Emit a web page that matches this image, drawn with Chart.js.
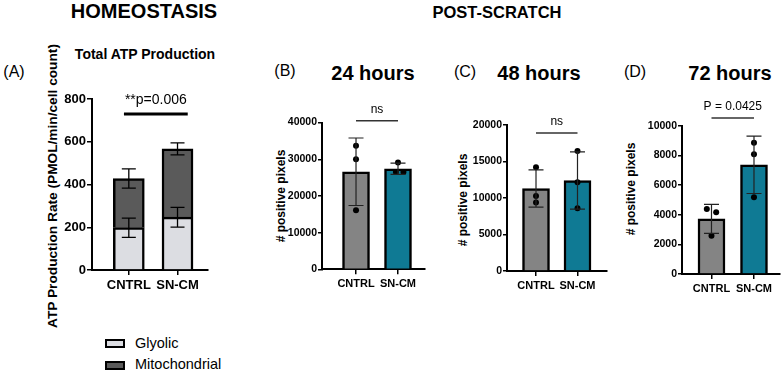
<!DOCTYPE html>
<html>
<head>
<meta charset="utf-8">
<script src="https://cdn.jsdelivr.net/npm/chart.js@4.4.0/dist/chart.umd.min.js"></script>
<style>
  body { margin: 0; background: #fff; }
  #fig { position: relative; width: 784px; height: 375px; overflow: hidden;
         font-family: "Liberation Sans", Arial, sans-serif; color: #000; }
  #fig canvas { position: absolute; }
  .t { position: absolute; white-space: nowrap; line-height: 1; transform: translate(-50%, -50%); }
  .rot { transform: translate(-50%, -50%) rotate(-90deg); }
  .head { font-size: 20px; font-weight: bold; }
  .sub { font-size: 14px; font-weight: bold; }
  .panel { font-size: 16px; }
  .ylab { font-size: 12px; font-weight: bold; }
  .leg { position: absolute; left: 105px; font-size: 14.5px; line-height: 1; white-space: nowrap; }
  .leg span.box { display: inline-block; width: 16px; height: 5px; border: 2px solid #000;
                  vertical-align: middle; margin-right: 10px; }
</style>
</head>
<body>
<div id="fig">
  <div class="t head" style="left:144px; top:11px;">HOMEOSTASIS</div>
  <div class="t head" style="left:497px; top:12px; font-size:16.5px;">POST-SCRATCH</div>

  <div class="t sub" style="left:145px; top:54px;">Total ATP Production</div>
  <div class="t panel" style="left:14px; top:72px;">(A)</div>
  <div class="t ylab rot" style="left:53px; top:186px; font-size:13.7px;">ATP Production Rate (PMOL/min/cell count)</div>

  <div class="t panel" style="left:285px; top:71px;">(B)</div>
  <div class="t head" style="left:373px; top:73px;">24 hours</div>
  <div class="t ylab rot" style="left:281px; top:196px;"># positive pixels</div>

  <div class="t panel" style="left:465px; top:72px;">(C)</div>
  <div class="t head" style="left:539px; top:73px;">48 hours</div>
  <div class="t ylab rot" style="left:463px; top:200px;"># positive pixels</div>

  <div class="t panel" style="left:635px; top:72px;">(D)</div>
  <div class="t head" style="left:730px; top:73px;">72 hours</div>
  <div class="t ylab rot" style="left:631px; top:189px;"># positive pixels</div>

  <canvas id="chartA" width="190" height="230" style="left:40px; top:80px;"></canvas>
  <canvas id="chartB" width="165" height="210" style="left:270px; top:100px;"></canvas>
  <canvas id="chartC" width="160" height="210" style="left:455px; top:100px;"></canvas>
  <canvas id="chartD" width="154" height="210" style="left:630px; top:100px;"></canvas>

  <div id="legendA"></div>
</div>

<script>
// categorias
const categories = ['CNTRL', 'SN-CM'];

// (A) ATP production - stacked
const glycoMean = [198, 247];
const glycoSd = [45, 46];
const mitoMean = [230, 320];
const totalSd = [45, 28];
const ticksA = [0, 200, 400, 600, 800];

// (B) 24 hours
const mean24 = [26600, 27400];
const sd24 = [9200, 1530];
const pts24 = [[33700, 30000, 16100], [29150, 26500, 26500]];
const jit24 = [[0, 0, 0], [0, -0.05, 0.13]];
const ticks24 = [0, 10000, 20000, 30000, 40000];

// (C) 48 hours
const mean48 = [11300, 12400];
const sd48 = [2560, 3930];
const pts48 = [[14200, 10270, 9400], [16440, 12150, 8590]];
const jit48 = [[0, 0, 0], [0, 0, 0]];
const ticks48 = [0, 5000, 10000, 15000, 20000];

// (D) 72 hours
const mean72 = [3720, 7380];
const sd72 = [980, 1940];
const pts72 = [[4390, 4170, 2590], [8870, 8090, 5180]];
const jit72 = [[-0.11, 0.11, 0], [0, 0, 0]];
const ticks72 = [0, 2000, 4000, 6000, 8000, 10000];

const GLY = '#dcdde2';
const MITO = '#5a5a5a';
const GRAY = '#848484';
const TEAL = '#0f7a94';

Chart.defaults.font.family = "'Liberation Sans', Arial, sans-serif";
Chart.defaults.color = '#000';

// barras de erro
const errorBarPlugin = {
    id: 'errorBars',
    afterDatasetsDraw(chart, args, opts) {
        const ctx = chart.ctx;
        const xs = chart.scales.x, ys = chart.scales.y;
        ctx.save();
        ctx.strokeStyle = opts.color;
        ctx.lineWidth = opts.width;
        opts.items.forEach(it => {
            const x = xs.getPixelForValue(it.x);
            const y1 = ys.getPixelForValue(it.y - it.sd);
            const y2 = ys.getPixelForValue(it.y + it.sd);
            ctx.beginPath();
            ctx.moveTo(x, y1); ctx.lineTo(x, y2);
            ctx.moveTo(x - opts.cap / 2, y1); ctx.lineTo(x + opts.cap / 2, y1);
            ctx.moveTo(x - opts.cap / 2, y2); ctx.lineTo(x + opts.cap / 2, y2);
            ctx.stroke();
        });
        ctx.restore();
    }
};

// linha de significancia
const sigPlugin = {
    id: 'sigBar',
    afterDraw(chart, args, o) {
        const ctx = chart.ctx;
        const xs = chart.scales.x, ys = chart.scales.y;
        const x1 = xs.getPixelForValue(o.from), x2 = xs.getPixelForValue(o.to);
        const y = ys.getPixelForValue(o.y);
        ctx.save();
        ctx.strokeStyle = o.color;
        ctx.lineWidth = o.lineWidth;
        ctx.beginPath();
        ctx.moveTo(x1, y); ctx.lineTo(x2, y);
        ctx.stroke();
        ctx.fillStyle = '#000';
        ctx.font = o.font;
        ctx.textAlign = 'center';
        ctx.textBaseline = 'middle';
        ctx.fillText(o.text, (x1 + x2) / 2, ys.getPixelForValue(o.textY));
        ctx.restore();
    }
};

function pointData(pts, jit) {
    const out = [];
    pts.forEach((group, i) => group.forEach((v, k) => out.push({x: i + jit[i][k], y: v})));
    return out;
}

function makePanel(id, o) {
    return new Chart(document.getElementById(id), {
        type: 'bar',
        data: { datasets: o.datasets },
        options: {
            responsive: false,
            animation: false,
            layout: { padding: o.pad },
            plugins: {
                legend: { display: false },
                tooltip: { enabled: false },
                errorBars: o.err,
                sigBar: o.sig
            },
            scales: {
                x: {
                    type: 'linear', min: o.xMin, max: o.xMax, stacked: true, offset: false,
                    afterFit: s => { s.height = 30; },
                    afterBuildTicks: s => { s.ticks = categories.map((c, i) => ({value: i})); },
                    grid: { offset: false, drawOnChartArea: false, color: '#000', tickLength: 5, lineWidth: 1.5 },
                    border: { color: '#000', width: o.axisW },
                    ticks: { autoSkip: false, maxRotation: 0, padding: 3, color: '#000',
                             font: { size: o.xFont, weight: 'bold' },
                             callback: v => categories[v] }
                },
                y: {
                    min: 0, max: o.yTicks[o.yTicks.length - 1], stacked: !!o.stacked,
                    afterFit: s => { s.width = 52; },
                    afterBuildTicks: s => { s.ticks = o.yTicks.map(v => ({value: v})); },
                    grid: { drawOnChartArea: false, color: '#000', tickLength: o.tickLen, lineWidth: 1.5 },
                    border: { color: '#000', width: o.axisW },
                    ticks: { padding: 1, color: '#000', font: { size: o.yFont, weight: 'bold' },
                             callback: v => String(v) }
                }
            }
        },
        plugins: [errorBarPlugin, sigPlugin]
    });
}

function simplePanel(id, means, sds, pts, jit, yTicks, extra) {
    return makePanel(id, Object.assign({
        datasets: [
            { type: 'scatter', order: 0, data: pointData(pts, jit),
              pointRadius: 3, backgroundColor: '#000', borderWidth: 0 },
            { type: 'bar', order: 1, data: means.map((v, i) => ({x: i, y: v})),
              backgroundColor: [GRAY, TEAL], borderColor: '#000', borderWidth: 2.5,
              barThickness: 27 }
        ],
        err: { color: '#222', width: 1.2, cap: 15,
               items: means.map((v, i) => ({x: i, y: v, sd: sds[i]})) },
        yTicks: yTicks, axisW: 2, xFont: 11, yFont: 10.5, tickLen: 4
    }, extra));
}

// painel A
makePanel('chartA', {
    datasets: [
        { label: 'Glyolic', data: glycoMean.map((v, i) => ({x: i, y: v})),
          backgroundColor: GLY, borderColor: '#000', borderWidth: 2.5, barThickness: 31 },
        { label: 'Mitochondrial', data: mitoMean.map((v, i) => ({x: i, y: v})),
          backgroundColor: MITO, borderColor: '#000', borderWidth: 2.5, barThickness: 31 }
    ],
    stacked: true,
    err: { color: '#000', width: 1.3, cap: 14,
           items: glycoMean.map((v, i) => ({x: i, y: v, sd: glycoSd[i]}))
                 .concat(glycoMean.map((v, i) => ({x: i, y: v + mitoMean[i], sd: totalSd[i]}))) },
    sig: { from: -0.1, to: 1.21, y: 730, text: '**p=0.006', textY: 793,
           font: '14px "Liberation Sans", Arial', lineWidth: 3, color: '#000' },
    yTicks: ticksA, axisW: 2, xFont: 13, yFont: 13, tickLen: 5,
    pad: { left: 0, top: 19, right: 22, bottom: 10 },
    xMin: -0.756, xMax: 1.626
});

simplePanel('chartB', mean24, sd24, pts24, jit24, ticks24, {
    sig: { from: 0, to: 1, y: 40500, text: 'ns', textY: 43400,
           font: '12px "Liberation Sans", Arial', lineWidth: 1.5, color: '#333' },
    pad: { left: 0, top: 22.6, right: 10, bottom: 10.7 },
    xMin: -0.81, xMax: 1.643
});

simplePanel('chartC', mean48, sd48, pts48, jit48, ticks48, {
    sig: { from: 0, to: 1, y: 18900, text: 'ns', textY: 20400,
           font: '12px "Liberation Sans", Arial', lineWidth: 1.5, color: '#333' },
    pad: { left: 0, top: 25, right: 8, bottom: 9 },
    xMin: -0.699, xMax: 1.711
});

simplePanel('chartD', mean72, sd72, pts72, jit72, ticks72, {
    sig: { from: 0, to: 1, y: 10540, text: 'P = 0.0425', textY: 11280,
           font: '12px "Liberation Sans", Arial', lineWidth: 1.5, color: '#333' },
    pad: { left: 0, top: 26, right: 4, bottom: 6 },
    xMin: -0.694, xMax: 1.612
});

// legenda do painel A
const legend = document.getElementById('legendA');
[['Glyolic', GLY, 342.5], ['Mitochondrial', MITO, 364]].forEach(([name, color, cy]) => {
    const d = document.createElement('div');
    d.className = 'leg';
    d.style.top = (cy - 7) + 'px';
    d.innerHTML = '<span class="box" style="background:' + color + '"></span>' + name;
    legend.appendChild(d);
});
</script>
</body>
</html>
